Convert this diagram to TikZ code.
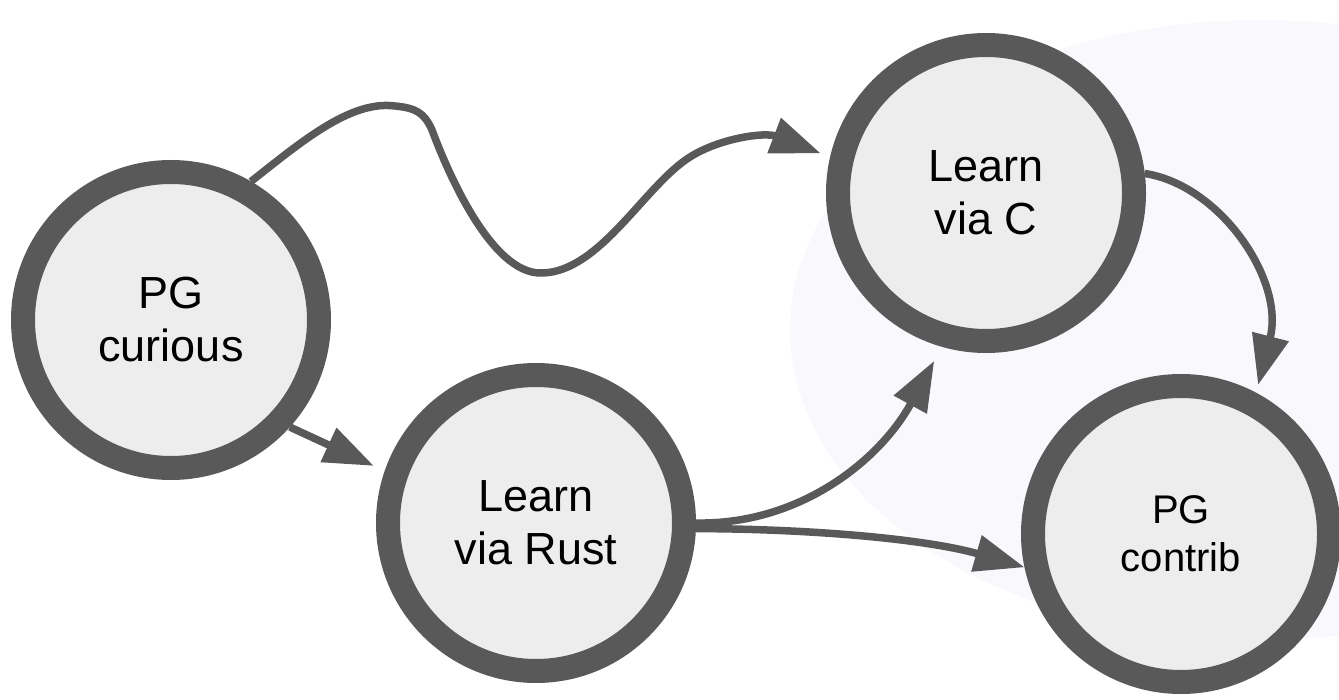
\documentclass[tikz,border=0pt]{standalone}
\usepackage{fontspec}
\setmainfont{Liberation Sans}
\usetikzlibrary{arrows.meta}
\definecolor{edgegray}{HTML}{595959}
\definecolor{nodefill}{HTML}{EDEDED}
\definecolor{bgtint}{HTML}{F9F9FD}
\begin{document}
\begin{tikzpicture}[x=1pt,y=-1pt,
  state/.style={circle, draw=edgegray, fill=nodefill, line width=24pt,
    minimum size=296pt, inner sep=0pt, align=center,
    font=\fontsize{45}{53}\selectfont},
  smallstate/.style={state, font=\fontsize{40}{48}\selectfont},
  link/.style={draw=edgegray, line width=7.5pt,
    -{Triangle[length=50pt,width=36pt]}}
]
\clip (0,0) rectangle (1339,700);
\fill[bgtint] (1260,330) ellipse [x radius=470pt, y radius=310pt];

\node[state] (cur) at (171,320) {PG\\curious};
\node[state] (rust) at (536,523) {Learn\\via Rust};
\node[state] (cc) at (986,193) {Learn\\via C};
\node[smallstate] (contrib) at (1181,534) {PG\\contrib};

\draw[link, shorten >=10pt] (cur.60.7)
  .. controls (300,143) and (350,100) .. (395,106)
  .. controls (415,108) and (424,112) .. (432,130)
  .. controls (445,165) and (490,275) .. (542,273)
  .. controls (600,272) and (645,185) .. (690,157)
  .. controls (720,138) and (765,132) .. (cc.167.5);

\draw[link, shorten >=12pt] (cur.-42) -- (rust.161);

\draw[link, shorten >=16pt] (rust.-0.7)
  .. controls (800,525) and (880,460) .. (cc.254);

\draw[link] (rust.-2.2)
  .. controls (820,529) and (930,540) .. (contrib.192.6);

\draw[link, shorten >=8pt] (cc.7.4)
  .. controls (1220,185) and (1285,280) .. (contrib.62.7);
\end{tikzpicture}
\end{document}
